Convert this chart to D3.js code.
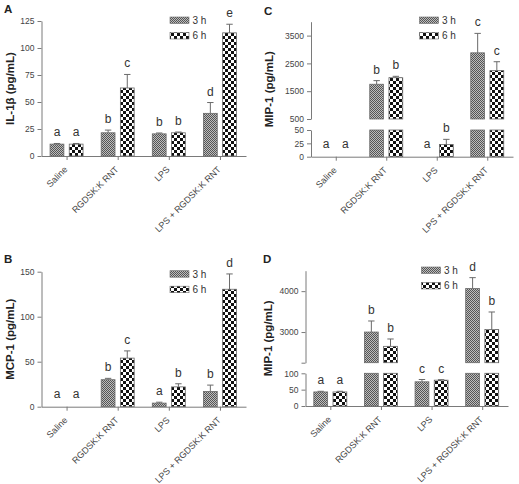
<!DOCTYPE html>
<html><head><meta charset="utf-8">
<script src="https://cdn.jsdelivr.net/npm/d3@7"></script>
<style>
body{margin:0;background:#fff}
svg{display:block;font-family:"Liberation Sans",Arial,sans-serif}
</style>
</head><body>
<svg id="chart" width="519" height="484"></svg>
<script>
// ---------------- data ----------------
const categories = ["Saline", "RGDSK:K RNT", "LPS", "LPS + RGDSK:K RNT"];
const seriesNames = ["3 h", "6 h"];

// Panel A: IL-1β (pg/mL)
const il1b3h = [11, 21.5, 20.5, 39.5];
const il1b3hSem = [0.6, 2.5, 0.8, 10];
const il1b6h = [11, 63, 21.5, 114];
const il1b6hSem = [0.6, 12.5, 0.7, 8];
const il1bLetters3h = ["a", "b", "b", "d"];
const il1bLetters6h = ["a", "c", "b", "e"];
const il1bTicks = [0, 25, 50, 75, 100, 125];

// Panel B: MCP-1 (pg/mL)
const mcp3h = [0, 30, 4, 17];
const mcp3hSem = [0, 1.5, 1, 7];
const mcp6h = [0, 54, 22, 130.5];
const mcp6hSem = [0, 8, 3.5, 17];
const mcpLetters3h = ["a", "b", "a", "b"];
const mcpLetters6h = ["a", "c", "b", "d"];
const mcpTicks = [0, 50, 100, 150];

// Panel C: MIP-1 (pg/mL)
const mipC3h = [0, 1750, 0, 2880];
const mipC3hSem = [0, 130, 0, 700];
const mipC6h = [0, 1985, 23, 2240];
const mipC6hSem = [0, 50, 9.5, 320];
const mipCLetters3h = ["a", "b", "a", "c"];
const mipCLetters6h = ["a", "b", "b", "c"];
const mipCTicksLow = [0, 25, 50];
const mipCTicksHigh = [500, 1500, 2500, 3500];

// Panel D: MIP-1 (pg/mL)
const mipD3h = [43, 3000, 74, 4065];
const mipD3hSem = [2, 270, 7, 265];
const mipD6h = [43, 2650, 79, 3060];
const mipD6hSem = [2, 180, 1.5, 430];
const mipDLetters3h = ["a", "b", "c", "d"];
const mipDLetters6h = ["a", "b", "c", "b"];
const mipDTicksLow = [0, 50, 100];
const mipDTicksHigh = [2250, 3000, 4000];

// ---------------- drawing ----------------
const svg = d3.select("#chart");
const defs = svg.append("defs");

// fine pattern for 3 h
const p1 = defs.append("pattern").attr("id", "pat3h").attr("patternUnits", "userSpaceOnUse")
  .attr("x", 0).attr("y", 0).attr("width", 2).attr("height", 2);
p1.append("rect").attr("width", 2).attr("height", 2).attr("fill", "#bdbdbd").attr("shape-rendering", "crispEdges");
p1.append("rect").attr("x", 0).attr("y", 0).attr("width", 1).attr("height", 1).attr("fill", "#555").attr("shape-rendering", "crispEdges");
p1.append("rect").attr("x", 1).attr("y", 1).attr("width", 1).attr("height", 1).attr("fill", "#555").attr("shape-rendering", "crispEdges");
// coarse checker for 6 h
const p2 = defs.append("pattern").attr("id", "pat6h").attr("patternUnits", "userSpaceOnUse")
  .attr("x", 0).attr("y", 0).attr("width", 6).attr("height", 6);
p2.append("rect").attr("width", 6).attr("height", 6).attr("fill", "#fff").attr("shape-rendering", "crispEdges");
p2.append("rect").attr("x", 0).attr("y", 0).attr("width", 3).attr("height", 3).attr("fill", "#111").attr("shape-rendering", "crispEdges");
p2.append("rect").attr("x", 3).attr("y", 3).attr("width", 3).attr("height", 3).attr("fill", "#111").attr("shape-rendering", "crispEdges");
const fills = ["url(#pat3h)", "url(#pat6h)"];

const AXIS = "#7a7a7a", TICKTXT = "#444", LETTER = "#333";

function drawPanel(cfg) {
  const g = svg.append("g");
  const x0 = d3.scaleBand().domain(categories).range([cfg.left, cfg.right]);
  const x1 = d3.scaleBand().domain(seriesNames).range([-17, 16]).paddingInner(0.28);
  const segs = cfg.segments.map(s => Object.assign({}, s, {
    y: d3.scaleLinear().domain(s.domain).range(s.range)
  }));
  const zeroY = segs[0].y(0);

  // y axes (one per segment)
  segs.forEach(s => {
    const ax = d3.axisLeft(s.y).tickValues(s.ticks).tickSize(4).tickSizeOuter(0).tickPadding(3)
      .tickFormat(d => (s.hideFirst && d === s.ticks[0]) ? "" : d);
    const a = g.append("g").attr("transform", `translate(${cfg.left},0)`).call(ax);
    a.select(".domain").attr("stroke", AXIS);
    a.selectAll(".tick line").attr("stroke", AXIS);
    a.selectAll(".tick text").attr("fill", TICKTXT).style("font-size", "8.5px")
      .style("font-family", '"Liberation Sans",Arial,sans-serif');
  });

  // x axis
  const xa = g.append("g").attr("transform", `translate(0,${zeroY})`)
    .call(d3.axisBottom(x0).tickSize(4).tickSizeOuter(0));
  xa.select(".domain").attr("stroke", AXIS);
  xa.selectAll(".tick line").attr("stroke", AXIS);
  xa.selectAll(".tick text").attr("x", 0).attr("y", 0).attr("dy", 0)
    .attr("text-anchor", "end").attr("transform", "translate(1,14) rotate(-45)")
    .attr("fill", TICKTXT).style("font-size", "9px")
    .style("font-family", '"Liberation Sans",Arial,sans-serif');

  // bars
  cfg.series.forEach((ser, si) => {
    ser.values.forEach((v, ci) => {
      const bx = x0(categories[ci]) + x0.bandwidth() / 2 + x1(seriesNames[si]);
      const bw = x1.bandwidth();
      const cx = bx + bw / 2;
      segs.forEach(s => {
        const lo = s.domain[0], hi = s.domain[1];
        if (v > lo) {
          const top = Math.min(v, hi);
          g.append("rect").attr("x", bx).attr("y", s.y(top))
            .attr("width", bw).attr("height", s.y(lo) - s.y(top))
            .attr("fill", fills[si]).attr("stroke", "#6a6a6a").attr("stroke-width", 0.8);
        }
      });
      const seg = segs.find(s => v >= s.domain[0] && v <= s.domain[1]) || segs[segs.length - 1];
      const e = ser.sem[ci];
      let topY = seg.y(v);
      if (e > 0) {
        const ey = seg.y(v + e);
        g.append("line").attr("x1", cx).attr("x2", cx).attr("y1", seg.y(v)).attr("y2", ey)
          .attr("stroke", "#6a6a6a").attr("stroke-width", 1);
        g.append("line").attr("x1", cx - 3.2).attr("x2", cx + 3.2).attr("y1", ey).attr("y2", ey)
          .attr("stroke", "#6a6a6a").attr("stroke-width", 1);
        topY = ey;
      }
      g.append("text").attr("x", cx).attr("y", topY - (e > 0 ? 7 : 9))
        .attr("text-anchor", "middle").attr("fill", LETTER).style("font-size", "12px")
        .text(ser.letters[ci]);
    });
  });

  // y title
  const midY = (segs[0].range[0] + segs[segs.length - 1].range[1]) / 2;
  g.append("text").attr("transform", `translate(${cfg.titleX},${midY}) rotate(-90)`)
    .attr("text-anchor", "middle").attr("fill", "#222").style("font-size", "11.5px")
    .style("font-weight", "bold").text(cfg.title);

  // panel letter
  g.append("text").attr("x", cfg.labelPos[0]).attr("y", cfg.labelPos[1])
    .attr("fill", "#222").style("font-size", "11.5px").style("font-weight", "bold").text(cfg.label);

  // legend
  seriesNames.forEach((n, i) => {
    const ly = cfg.legend[1] + i * 15.5;
    g.append("rect").attr("x", cfg.legend[0]).attr("y", ly - 3).attr("width", 19).attr("height", 6.5)
      .attr("fill", fills[i]).attr("stroke", "#6a6a6a").attr("stroke-width", 0.6);
    g.append("text").attr("x", cfg.legend[0] + 22.5).attr("y", ly + 3.8)
      .attr("fill", "#333").style("font-size", "10px").text(n);
  });
}

drawPanel({
  left: 41.5, right: 246, title: "IL-1β (pg/mL)", titleX: 13.5, label: "A", labelPos: [4, 13],
  legend: [170, 20],
  segments: [{domain: [0, 125], range: [156, 21], ticks: il1bTicks}],
  series: [
    {values: il1b3h, sem: il1b3hSem, letters: il1bLetters3h},
    {values: il1b6h, sem: il1b6hSem, letters: il1bLetters6h}
  ]
});

drawPanel({
  left: 41.5, right: 246, title: "MCP-1 (pg/mL)", titleX: 13.5, label: "B", labelPos: [4, 263],
  legend: [170, 273.7],
  segments: [{domain: [0, 150], range: [406.7, 271.7], ticks: mcpTicks}],
  series: [
    {values: mcp3h, sem: mcp3hSem, letters: mcpLetters3h},
    {values: mcp6h, sem: mcp6hSem, letters: mcpLetters6h}
  ]
});

drawPanel({
  left: 311, right: 513, title: "MIP-1 (pg/mL)", titleX: 273, label: "C", labelPos: [264, 15],
  legend: [419.5, 20],
  segments: [
    {domain: [0, 50], range: [156.7, 130], ticks: mipCTicksLow},
    {domain: [500, 4000], range: [119, 21.7], ticks: mipCTicksHigh}
  ],
  series: [
    {values: mipC3h, sem: mipC3hSem, letters: mipCLetters3h},
    {values: mipC6h, sem: mipC6hSem, letters: mipCLetters6h}
  ]
});

drawPanel({
  left: 305.5, right: 508, title: "MIP-1 (pg/mL)", titleX: 271.5, label: "D", labelPos: [263, 263],
  legend: [421.5, 270],
  segments: [
    {domain: [0, 100], range: [406, 373.3], ticks: mipDTicksLow},
    {domain: [2250, 4500], range: [362.7, 270.7], ticks: mipDTicksHigh, hideFirst: true}
  ],
  series: [
    {values: mipD3h, sem: mipD3hSem, letters: mipDLetters3h},
    {values: mipD6h, sem: mipD6hSem, letters: mipDLetters6h}
  ]
});
</script>
</body></html>
